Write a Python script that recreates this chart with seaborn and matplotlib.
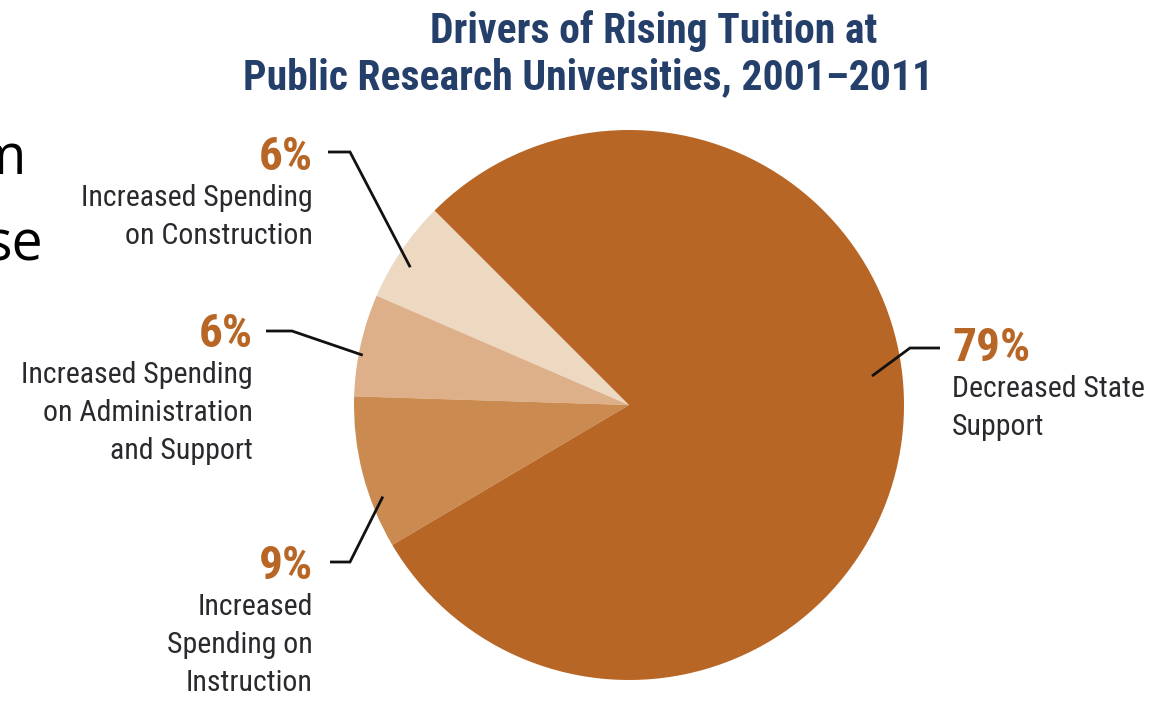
#!/usr/bin/env python3
"""Drivers of rising tuition at public research universities, 2001-2011 (pie)."""

import numpy as np
import matplotlib

matplotlib.use("Agg")
import matplotlib.pyplot as plt
from matplotlib import font_manager
import seaborn as sns

# Slices, drawn counter-clockwise from the upper-left edge
SEGMENTS = [
    "Increased Spending\non Construction",
    "Increased Spending\non Administration\nand Support",
    "Increased\nSpending on\nInstruction",
    "Decreased State\nSupport",
]
SHARES = [6, 6, 9, 79]
PCT_LABELS = ["6%", "6%", "9%", "79%"]
COLORS = ["#EDD8C2", "#DDB089", "#CA8A50", "#B86626"]

TITLE_1 = "Drivers of Rising Tuition at"
TITLE_2 = "Public Research Universities, 2001\u20132011"

W, H = 1166, 701
CX, CY, R = 629, 405, 275  # pie centre / radius in pixels


def px(x, y):
    """pixel position -> data coordinates (pie radius = 1)."""
    return (x - CX) / R, (CY - y) / R


def pick_font(candidates):
    names = {f.name for f in font_manager.fontManager.ttflist}
    for c in candidates:
        if c in names:
            return c
    return "DejaVu Sans"


def main() -> None:
    sns.set_theme(style="white")
    narrow = pick_font(["Liberation Sans Narrow", "Roboto Condensed", "Roboto"])
    plt.rcParams["font.family"] = [narrow, "DejaVu Sans"]

    fig = plt.figure(figsize=(W / 100, H / 100), dpi=100)
    ax = fig.add_axes([0, 0, 1, 1])

    wedges, _ = ax.pie(
        SHARES,
        colors=COLORS,
        startangle=135,
        counterclock=True,
        radius=1.0,
        wedgeprops=dict(linewidth=0),
    )
    # pie() resets the limits, so pin them afterwards
    ax.set_xlim(-CX / R, (W - CX) / R)
    ax.set_ylim(-(H - CY) / R, CY / R)
    ax.set_aspect("equal")
    ax.axis("off")

    # label layout: pct anchor px, alignment, leader tip radius / angle nudge, leader path
    layout = [
        dict(pct=(313, 157), ha="right", r=0.94, nudge=2, elbow=(350, 152), start=(328, 152)),
        dict(pct=(253, 334), ha="right", r=0.985, nudge=2, elbow=(292, 331), start=(266, 331)),
        dict(pct=(313, 566), ha="right", r=0.955, nudge=6, elbow=(350, 562), start=(330, 562)),
        dict(pct=(952, 348), ha="left", r=0.89, nudge=14, elbow=(910, 348), start=(940, 348)),
    ]

    for w, pct, seg, lay in zip(wedges, PCT_LABELS, SEGMENTS, layout):
        mid = np.deg2rad((w.theta1 + w.theta2) / 2 + lay["nudge"])
        tip = (lay["r"] * np.cos(mid), lay["r"] * np.sin(mid))
        sx, sy = px(*lay["start"])
        ex, ey = px(*lay["elbow"])
        ax.plot([sx, ex, tip[0]], [sy, ey, tip[1]], color="#111111", lw=2.0,
                solid_capstyle="butt", solid_joinstyle="miter")

        x, y = px(*lay["pct"])
        ax.text(x, y, pct, ha=lay["ha"], va="center", fontsize=34,
                fontweight="bold", color="#B86626")
        ax.text(x, y - 0.1, seg, ha=lay["ha"], va="top", fontsize=21.5,
                color="#2A2A2E", linespacing=1.45)

    # title, two lines
    tx, ty = px(654, 31)
    ax.text(tx, ty, TITLE_1, ha="center", va="center", fontsize=30,
            fontweight="bold", color="#24406A")
    tx, ty = px(588, 78)
    ax.text(tx, ty, TITLE_2, ha="center", va="center", fontsize=30,
            fontweight="bold", color="#24406A")

    # clipped slide text peeking in from the left edge
    for frag, (fx, fy) in [("m", (26, 160)), ("se", (43, 246))]:
        x, y = px(fx, fy)
        ax.text(x, y, frag, ha="right", va="center", fontsize=40,
                color="black", family=["Open Sans", "DejaVu Sans"])

    fig.savefig("out.png", dpi=100)
    plt.close(fig)


if __name__ == "__main__":
    main()
